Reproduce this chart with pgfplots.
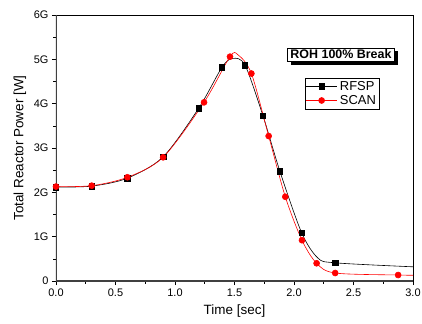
\documentclass[border=0pt]{standalone}
\usepackage{fontspec}
\setmainfont{Liberation Sans}
\usepackage{pgfplots}
\pgfplotsset{compat=1.18}
\usetikzlibrary{shadows}
\begin{document}
\begin{tikzpicture}
\begin{axis}[
  scale only axis,
  width=357bp, height=266bp,
  xmin=0, xmax=3, ymin=0, ymax=6,
  xtick={0,0.5,...,3}, minor x tick num=1,
  ytick={0,1,2,3,4,5,6}, minor y tick num=1,
  yticklabels={0,1G,2G,3G,4G,5G,6G},
  /pgf/number format/assume math mode=true,
  xticklabel style={/pgf/number format/.cd,fixed,fixed zerofill,precision=1},
  tick label style={font=\fontsize{11}{12}\selectfont},
  tick align=outside, tick pos=left,
  major tick length=4bp, minor tick length=2.5bp,
  every tick/.style={black, line width=0.6pt},
  axis line style={line width=0.8pt},
  xlabel={Time [sec]}, ylabel={Total Reactor Power [W]},
  label style={font=\fontsize{13.5}{15}\selectfont},
  xlabel style={at={(axis description cs:0.5,-0.113)}, anchor=center},
  ylabel style={at={(axis description cs:-0.101,0.5)}, anchor=center},
  legend style={at={(axis cs:2.089,4.58)}, anchor=north west, draw=black, line width=0.5pt,
    font=\fontsize{13}{14}\selectfont, inner xsep=1bp, inner ysep=1bp, row sep=-0.5pt,
    nodes={inner xsep=2.5bp}},
  legend cell align=left,
  legend image code/.code={\draw[#1] (0bp,0bp) -- (31bp,0bp); \draw[#1, mark repeat=1, only marks] plot coordinates {(15.5bp,0bp)};},
]
\draw[line width=1.6pt, black!75] (rel axis cs:0,1) -- (rel axis cs:0,0) -- (rel axis cs:1,0);
\addplot[black, line width=0.6pt, smooth, tension=0.5, mark=square*, mark size=2.8pt,
  mark options={solid}, mark indices={1,2,3,4,5,6,8,9,10,11,13}] coordinates {
 (0,2.12) (0.3,2.14) (0.6,2.32) (0.9,2.80) (1.2,3.90) (1.395,4.82) (1.485,5.02)
 (1.588,4.87) (1.739,3.73) (1.882,2.47) (2.064,1.09) (2.2,0.52) (2.346,0.41) (3.0,0.32)};
\addlegendentry{RFSP}
\addplot[red, line width=0.6pt, smooth, tension=0.5, mark=*, mark size=3pt,
  mark options={solid}, mark indices={1,2,3,4,5,6,8,9,10,11,12,13,14}] coordinates {
 (0,2.13) (0.3,2.15) (0.6,2.34) (0.9,2.79) (1.244,4.03) (1.462,5.06) (1.53,5.10)
 (1.642,4.68) (1.787,3.27) (1.927,1.90) (2.067,0.92) (2.19,0.40) (2.346,0.18) (2.875,0.135) (3.0,0.13)};
\addlegendentry{SCAN}
\node[draw=black, fill=white, line width=0.6pt, inner xsep=3pt, inner ysep=2pt,
  font=\bfseries\fontsize{12.5}{13}\selectfont,
  drop shadow={shadow xshift=3.5bp, shadow yshift=-3.5bp, fill=black, opacity=1}]
  at (axis cs:2.395,5.11) {ROH 100\% Break};
\end{axis}
\pgfresetboundingbox
\path (-56bp,-43bp) rectangle (366bp,281bp);
\end{tikzpicture}
\end{document}
